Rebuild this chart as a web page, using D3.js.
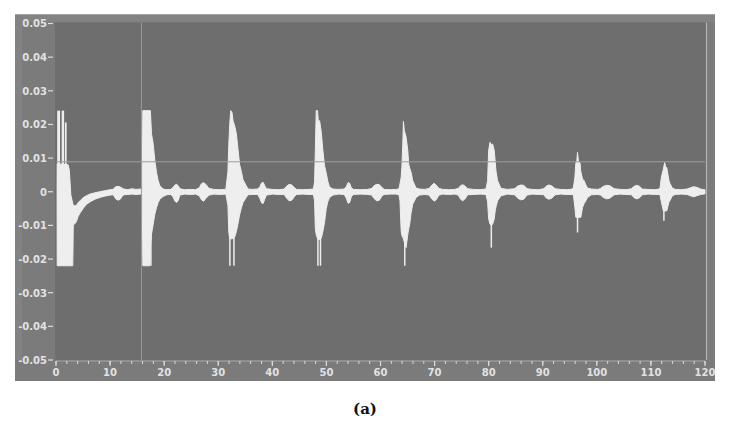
<!DOCTYPE html>
<html><head><meta charset="utf-8">
<script src="https://cdn.jsdelivr.net/npm/d3@7"></script>
<style>body{margin:0;background:#fff}svg{display:block}</style>
</head><body><svg id="c" width="734" height="429"></svg>
<script>
// Envelope of the recorded signal (time knots, upper and lower envelope)
const envT = [
  0.20,0.22,2.25,2.45,2.60,2.75,3.10,3.20,3.50,3.80,4.10,4.50,5.00,5.60,6.30,7.20,8.10,9.00,10.0,10.6,
  10.8,11.1,11.5,11.9,12.3,12.6,13.3,14.0,14.8,15.6,
  15.95,16.05,17.35,17.45,17.66,17.97,18.28,18.59,18.89,19.2,19.8,20.5,21.2,
  21.6,22.0,22.3,22.6,22.9,23.8,24.8,25.8,26.5,26.9,27.3,27.7,28.3,29.2,30.3,31.4,
  31.79,31.95,32.12,32.31,32.55,32.74,33.04,33.35,33.66,33.96,34.27,34.58,35.2,35.5,
  36.3,37.3,37.7,38.0,38.3,38.6,38.9,40.0,41.2,42.2,42.6,43.1,43.6,44.1,44.5,45.6,46.8,47.6,
  47.81,47.95,48.12,48.35,48.5,48.74,49.05,49.35,49.66,49.97,50.27,50.58,51.2,
  52.2,53.3,53.7,54.0,54.3,54.6,55.0,56.4,57.6,58.4,58.8,59.3,59.8,60.3,60.7,61.8,62.8,63.4,
  63.6,63.82,63.95,64.12,64.24,64.4,64.74,65.05,65.22,65.4,65.66,65.96,66.58,67.2,
  68.2,69.0,69.4,69.9,70.3,70.8,71.5,72.6,73.7,74.4,74.8,75.2,75.7,76.1,77.2,78.4,79.5,
  79.81,79.99,80.24,80.49,80.73,81.04,81.2,81.35,81.65,82.27,
  83.5,84.8,85.3,85.9,86.5,87.1,88.0,89.2,90.2,90.6,91.1,91.6,92.3,93.3,94.5,95.5,
  95.69,95.94,96.12,96.3,96.43,96.6,96.9,97.04,97.35,97.65,97.97,98.27,
  99.0,100.2,100.7,101.2,101.8,102.4,103.2,104.3,105.4,106.4,106.9,107.4,107.9,108.4,109.5,110.7,111.5,
  111.69,111.93,112.3,112.55,112.7,112.92,113.35,113.5,113.96,
  114.5,115.6,116.7,117.3,117.9,118.5,119.2,119.8,120.0
];
const envHi = [
  0,.0083,.0080,.0065,.0030,-.0010,-.0035,-.0040,-.0042,-.0040,-.0032,-.0026,-.0018,-.0012,-.0007,-.0003,0,.0003,.0006,.0007,
  .0012,.0015,.0016,.0014,.0010,.0008,.0006,.0009,.0007,.0008,
  .0010,.0241,.0241,.0241,.0172,.0142,.0092,.0057,.0033,.0018,.0008,.0006,.0007,
  .0012,.0020,.0022,.0018,.0009,.0006,.0007,.0006,.0012,.0024,.0027,.0022,.0010,.0007,.0006,.0007,
  .0060,.0140,.0200,.0241,.0235,.0210,.0196,.0172,.0125,.0080,.0060,.0036,.0017,.0008,
  .0007,.0008,.0015,.0026,.0028,.0018,.0009,.0007,.0006,.0008,.0016,.0022,.0020,.0012,.0007,.0006,.0007,.0008,
  .0030,.0120,.0241,.0241,.0210,.0211,.0177,.0122,.0077,.0055,.0030,.0014,.0008,
  .0007,.0008,.0016,.0027,.0025,.0012,.0007,.0006,.0007,.0010,.0018,.0022,.0021,.0012,.0007,.0006,.0007,.0008,
  .0023,.0043,.0072,.0142,.0209,.0182,.0162,.0122,.0082,.0070,.0058,.0033,.0011,.0008,
  .0007,.0010,.0018,.0025,.0020,.0010,.0007,.0006,.0007,.0010,.0018,.0021,.0016,.0009,.0007,.0006,.0008,
  .0033,.0122,.0147,.0140,.0142,.0122,.0090,.0062,.0033,.0010,
  .0007,.0009,.0016,.0020,.0019,.0009,.0007,.0006,.0009,.0016,.0020,.0018,.0009,.0007,.0006,.0008,
  .0014,.0043,.0085,.0092,.0117,.0090,.0085,.0060,.0038,.0033,.0020,.0011,
  .0008,.0007,.0010,.0016,.0019,.0018,.0009,.0007,.0006,.0009,.0016,.0019,.0016,.0008,.0007,.0006,.0008,
  .0011,.0043,.0067,.0087,.0075,.0072,.0033,.0025,.0011,
  .0007,.0006,.0008,.0012,.0015,.0013,.0008,.0006,.0006
];
const envLo = [
  0,-.022,-.022,-.022,-.022,-.022,-.022,-.0098,-.0095,-.0088,-.0073,-.0062,-.0050,-.0038,-.0030,-.0022,-.0017,-.0013,-.0010,-.0009,
  -.0015,-.0022,-.0025,-.0022,-.0012,-.0009,-.0008,-.0007,-.0008,-.0007,
  -.0010,-.022,-.022,-.0165,-.0126,-.0096,-.0066,-.0047,-.0032,-.0022,-.0014,-.0009,-.0008,
  -.0014,-.0028,-.0032,-.0026,-.0010,-.0007,-.0008,-.0007,-.0012,-.0024,-.0028,-.0020,-.0010,-.0007,-.0008,-.0007,
  -.0040,-.0120,-.0140,-.0140,-.0140,-.0138,-.0135,-.0118,-.0094,-.0068,-.0048,-.0032,-.0016,-.0009,
  -.0008,-.0008,-.0020,-.0033,-.0035,-.0022,-.0010,-.0007,-.0008,-.0008,-.0018,-.0027,-.0025,-.0014,-.0008,-.0007,-.0008,-.0008,
  -.0027,-.0110,-.0128,-.0138,-.0142,-.0142,-.0138,-.0118,-.0090,-.0050,-.0029,-.0017,-.0010,
  -.0007,-.0008,-.0020,-.0034,-.0032,-.0015,-.0008,-.0007,-.0008,-.0010,-.0020,-.0027,-.0025,-.0012,-.0008,-.0007,-.0007,-.0008,
  -.0027,-.0116,-.0130,-.0136,-.0140,-.0150,-.0166,-.0126,-.0110,-.0096,-.0062,-.0037,-.0017,-.0010,
  -.0008,-.0010,-.0020,-.0028,-.0024,-.0010,-.0007,-.0008,-.0007,-.0010,-.0022,-.0027,-.0020,-.0009,-.0008,-.0007,-.0008,
  -.0030,-.0080,-.0096,-.0100,-.0096,-.0080,-.0057,-.0045,-.0027,-.0012,
  -.0007,-.0009,-.0018,-.0024,-.0022,-.0010,-.0007,-.0008,-.0009,-.0018,-.0022,-.0020,-.0009,-.0007,-.0008,-.0008,
  -.0012,-.0047,-.0076,-.0076,-.0078,-.0076,-.0076,-.0076,-.0047,-.0035,-.0027,-.0017,
  -.0009,-.0008,-.0010,-.0017,-.0021,-.0019,-.0009,-.0007,-.0008,-.0009,-.0018,-.0021,-.0018,-.0009,-.0007,-.0008,-.0008,
  -.0010,-.0030,-.0057,-.0057,-.0057,-.0057,-.0030,-.0027,-.0012,
  -.0008,-.0007,-.0008,-.0012,-.0015,-.0012,-.0008,-.0007,-.0006
];
// clipped columns of the first burst
const colT0 = [0.22, 1.05, 1.65];
const colT1 = [0.75, 1.50, 1.97];
const colTop = [0.0241, 0.0241, 0.0206];
// narrow negative spikes
const spikeT  = [17.55, 32.15, 32.9, 48.43, 48.9, 64.49, 80.49, 96.43, 112.4];
const spikeLo = [-0.022, -0.022, -0.022, -0.022, -0.022, -0.022, -0.0166, -0.0121, -0.0086];
// cursors
const cursorT = 15.8;
const cursorV = 0.0089;
// axes
const yTicks = [0.05,0.04,0.03,0.02,0.01,0,-0.01,-0.02,-0.03,-0.04,-0.05];
const yTickLabels = ["0.05","0.04","0.03","0.02","0.01","0","-0.01","-0.02","-0.03","-0.04","-0.05"];
const xTicks = [0,10,20,30,40,50,60,70,80,90,100,110,120];
const xMinorTicks = d3.range(0, 121, 2);
const caption = "(a)";

const svg = d3.select("#c");
const x = d3.scaleLinear().domain([0,120]).range([56,705]);
const y = d3.scaleLinear().domain([-0.05,0.05]).range([360,23.5]);

// panel
svg.append("rect").attr("x",15).attr("y",14).attr("width",700).attr("height",367).attr("fill","#7b7b7b");
svg.append("rect").attr("x",15).attr("y",14).attr("width",700).attr("height",8).attr("fill","#838383");
svg.append("line").attr("x1",15).attr("x2",715).attr("y1",14.5).attr("y2",14.5).attr("stroke","#a3a3a3");
svg.append("rect").attr("x",15).attr("y",22).attr("width",7).attr("height",338).attr("fill","#828282");
// plot area
svg.append("rect").attr("x",55).attr("y",22.5).attr("width",652).attr("height",338).attr("fill","#6e6e6e");

const env = envT.map((t,i)=>({t, hi: envHi[i], lo: envLo[i]}));
const area = d3.area().x(d=>x(d.t)).y0(d=>y(d.lo)).y1(d=>y(d.hi));
const sig = svg.append("g").attr("fill","#eeeeee").attr("stroke","#eeeeee");
sig.append("path").datum(env).attr("d",area).attr("stroke-width",1).attr("stroke-linejoin","round");
sig.selectAll("rect.col").data(colT0).join("rect")
  .attr("x",(d,i)=>x(d)).attr("width",(d,i)=>x(colT1[i])-x(d))
  .attr("y",(d,i)=>y(colTop[i])).attr("height",(d,i)=>y(0)-y(colTop[i])).attr("stroke","none");
sig.selectAll("line.sp").data(spikeT).join("line")
  .attr("x1",d=>x(d)).attr("x2",d=>x(d)).attr("y1",y(0)).attr("y2",(d,i)=>y(spikeLo[i]))
  .attr("stroke-width",1.5);

// cursor lines
svg.append("line").attr("x1",x(0)).attr("x2",x(120)).attr("y1",y(cursorV)).attr("y2",y(cursorV))
  .attr("stroke","#9c9c9c").attr("stroke-width",1);
svg.append("line").attr("x1",x(cursorT)).attr("x2",x(cursorT)).attr("y1",22.5).attr("y2",360)
  .attr("stroke","#9c9c9c").attr("stroke-width",1);
svg.append("line").attr("x1",x(120)+1.5).attr("x2",x(120)+1.5).attr("y1",22.5).attr("y2",360)
  .attr("stroke","#b4b4b4").attr("stroke-width",1.2);

// y axis
const font = "DejaVu Sans, Verdana, sans-serif";
const yg = svg.append("g");
yg.selectAll("line").data(yTicks).join("line")
  .attr("x1",48).attr("x2",53).attr("y1",d=>y(d)).attr("y2",d=>y(d))
  .attr("stroke","#dedede").attr("stroke-width",1.2);
yg.selectAll("text").data(yTicks).join("text")
  .attr("x",47).attr("y",d=>y(d)+3.8).attr("text-anchor","end")
  .attr("font-family",font).attr("font-size",10).attr("font-weight","bold").attr("fill","#e2e2e2")
  .text((d,i)=>yTickLabels[i]);

// x axis
const xg = svg.append("g");
xg.append("line").attr("x1",x(0)).attr("x2",x(120)).attr("y1",361).attr("y2",361).attr("stroke","#a9a9a9");
xg.selectAll("line.mi").data(xMinorTicks).join("line")
  .attr("x1",d=>x(d)).attr("x2",d=>x(d)).attr("y1",361).attr("y2",364)
  .attr("stroke","#d8d8d8").attr("stroke-width",1);
xg.selectAll("line.ma").data(xTicks).join("line")
  .attr("x1",d=>x(d)).attr("x2",d=>x(d)).attr("y1",361).attr("y2",366)
  .attr("stroke","#dedede").attr("stroke-width",1.2);
xg.selectAll("text").data(xTicks).join("text")
  .attr("x",d=>x(d)).attr("y",376).attr("text-anchor","middle")
  .attr("font-family",font).attr("font-size",10).attr("font-weight","bold").attr("fill","#e2e2e2")
  .text(d=>d);

// caption
svg.append("text").attr("x",365).attr("y",414).attr("text-anchor","middle")
  .attr("font-family","DejaVu Serif, serif").attr("font-size",15).attr("font-weight","bold").attr("fill","#111")
  .text(caption);
</script></body></html>
